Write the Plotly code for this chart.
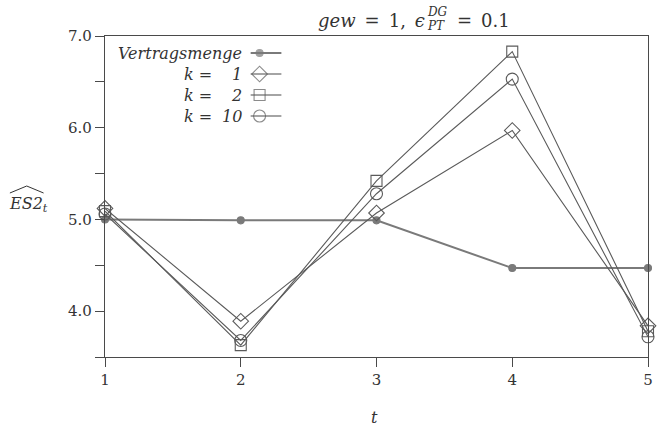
import plotly.graph_objects as go

# Periods and series values
t = [1, 2, 3, 4, 5]
vertragsmenge = [5.00, 4.99, 4.99, 4.47, 4.47]
k1 = [5.12, 3.89, 5.07, 5.97, 3.84]
k2 = [5.09, 3.63, 5.42, 6.83, 3.78]
k10 = [5.06, 3.68, 5.28, 6.53, 3.72]

y_tickvals = [3.5, 4.0, 4.5, 5.0, 5.5, 6.0, 6.5, 7.0]
y_ticktext = ["", "4.0", "", "5.0", "", "6.0", "", "7.0"]

FONT = "DejaVu Serif"
AX = "#4a4a4a"
LINE = "#5a5a5a"
FILLED = "#7a7a7a"

# plot-area pixel frame
L, R, T, B = 105, 653, 36, 357
W, H = R - L, B - T


def px(x):
    return (x - L) / W


def py(y):
    return (B - y) / H


series = [
    ("Vertragsmenge", vertragsmenge, "circle", FILLED, 2.0, 7),
    ("k1", k1, "diamond-open", LINE, 1.1, 12),
    ("k2", k2, "square-open", LINE, 1.1, 11),
    ("k10", k10, "circle-open", LINE, 1.1, 12),
]

fig = go.Figure()
for name, vals, sym, c, lw, ms in series:
    fig.add_trace(go.Scatter(
        x=t, y=vals, mode="lines+markers", name=name,
        line=dict(color=c, width=lw),
        marker=dict(symbol=sym, size=ms, color=c, line=dict(color=c, width=1.1)),
        cliponaxis=False, showlegend=False,
    ))

# legend samples on an overlay axis in pixel units
legend_rows = [53, 74, 95, 116]
for (name, vals, sym, c, lw, ms), yy in zip(series, legend_rows):
    fig.add_trace(go.Scatter(
        x=[252, 261, 283], y=[yy, yy, yy], mode="lines+markers",
        xaxis="x2", yaxis="y2",
        line=dict(color=c, width=lw),
        marker=dict(symbol=sym, size=[0, ms, 0], color=c,
                    line=dict(color=c, width=1.1)),
        showlegend=False, hoverinfo="skip", cliponaxis=False,
    ))

annotations = []


def label(text, x, y, size=15, xanchor="center", color="#333"):
    annotations.append(dict(
        text=text, x=px(x), y=py(y), xref="paper", yref="paper",
        xanchor=xanchor, yanchor="middle", showarrow=False,
        font=dict(family=FONT, size=size, color=color),
    ))


# legend text
label("<i>Vertragsmenge</i>", 245, 53, 16, "right")
for yy, num in zip(legend_rows[1:], ["1", "2", "10"]):
    label("<i>k</i> =", 183, yy, 16, "left")
    label(f"<i>{num}</i>", 245, yy, 16, "right")

# title pieces
label("<i>gew</i>\u2002=\u20021,\u2002<i>ϵ</i>", 430, 20, 18, "right")
label("<i>DG</i>", 428, 12, 12, "left")
label("<i>PT</i>", 428, 26, 12, "left")
label("=\u20020.1", 458, 20, 18, "left")

# axis titles
label("<i>ES2</i><sub><i>t</i></sub>", 28, 205, 16)
label("<i>t</i>", 377, 418, 16)

shapes = [dict(
    type="path", xref="paper", yref="paper",
    path=f"M {px(9)},{py(193)} L {px(26)},{py(186)} L {px(43)},{py(193)}",
    line=dict(color="#333", width=1),
)]

fig.update_layout(
    width=658, height=432,
    margin=dict(l=L, r=658 - R, t=T, b=432 - B),
    paper_bgcolor="white", plot_bgcolor="white",
    font=dict(family=FONT, size=15, color="#333"),
    xaxis=dict(
        range=[1, 5], tickvals=t, ticktext=[str(v) for v in t],
        ticks="outside", ticklen=9, tickcolor=AX, tickwidth=1.2,
        showline=True, linecolor=AX, linewidth=1.3, mirror=True,
        showgrid=False, zeroline=False, tickfont=dict(size=15),
    ),
    yaxis=dict(
        range=[3.5, 7.0], tickvals=y_tickvals, ticktext=y_ticktext,
        ticks="outside", ticklen=9, tickcolor=AX, tickwidth=1.2,
        showline=True, linecolor=AX, linewidth=1.3, mirror=True,
        showgrid=False, zeroline=False, tickfont=dict(size=15),
    ),
    xaxis2=dict(overlaying="x", range=[L, R], visible=False),
    yaxis2=dict(overlaying="y", range=[B, T], visible=False),
    annotations=annotations,
    shapes=shapes,
    showlegend=False,
)

fig.write_html("out.html")
